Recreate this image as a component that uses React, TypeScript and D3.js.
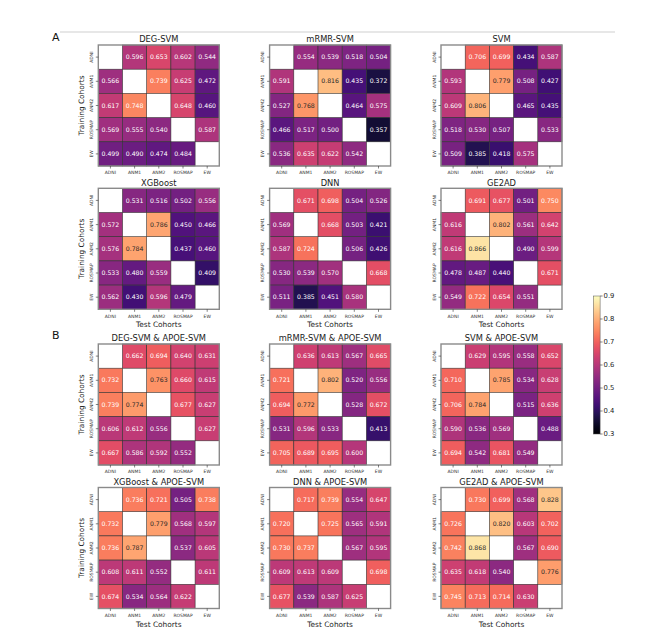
import React from "react";
import * as d3 from "d3";

const cohorts = ["ADNI", "ANM1", "ANM2", "ROSMAP", "EW"];
const colorbarTicks = [0.3, 0.4, 0.5, 0.6, 0.7, 0.8, 0.9];

const degSvm = [
  [null, 0.596, 0.653, 0.602, 0.544],
  [0.566, null, 0.739, 0.625, 0.472],
  [0.617, 0.748, null, 0.648, 0.46],
  [0.569, 0.555, 0.54, null, 0.587],
  [0.499, 0.49, 0.474, 0.484, null],
];
const mrmrSvm = [
  [null, 0.554, 0.539, 0.518, 0.504],
  [0.591, null, 0.816, 0.435, 0.372],
  [0.527, 0.768, null, 0.464, 0.575],
  [0.466, 0.517, 0.5, null, 0.357],
  [0.536, 0.635, 0.622, 0.542, null],
];
const svm = [
  [null, 0.706, 0.699, 0.434, 0.587],
  [0.593, null, 0.779, 0.508, 0.427],
  [0.609, 0.806, null, 0.465, 0.435],
  [0.518, 0.53, 0.507, null, 0.533],
  [0.509, 0.385, 0.418, 0.575, null],
];
const xgboost = [
  [null, 0.531, 0.516, 0.502, 0.556],
  [0.572, null, 0.786, 0.45, 0.466],
  [0.576, 0.784, null, 0.437, 0.46],
  [0.533, 0.48, 0.559, null, 0.409],
  [0.562, 0.43, 0.596, 0.479, null],
];
const dnn = [
  [null, 0.671, 0.698, 0.504, 0.526],
  [0.569, null, 0.668, 0.503, 0.421],
  [0.587, 0.724, null, 0.506, 0.426],
  [0.53, 0.539, 0.57, null, 0.668],
  [0.511, 0.385, 0.451, 0.58, null],
];
const ge2ad = [
  [null, 0.691, 0.677, 0.501, 0.75],
  [0.616, null, 0.802, 0.561, 0.642],
  [0.616, 0.866, null, 0.49, 0.599],
  [0.478, 0.487, 0.44, null, 0.671],
  [0.549, 0.722, 0.654, 0.551, null],
];
const degApoe = [
  [null, 0.662, 0.694, 0.64, 0.631],
  [0.732, null, 0.763, 0.66, 0.615],
  [0.739, 0.774, null, 0.677, 0.627],
  [0.606, 0.612, 0.556, null, 0.627],
  [0.667, 0.586, 0.592, 0.552, null],
];
const mrmrApoe = [
  [null, 0.636, 0.613, 0.567, 0.665],
  [0.721, null, 0.802, 0.52, 0.556],
  [0.694, 0.772, null, 0.528, 0.672],
  [0.531, 0.596, 0.533, null, 0.413],
  [0.705, 0.689, 0.695, 0.6, null],
];
const svmApoe = [
  [null, 0.629, 0.595, 0.558, 0.652],
  [0.71, null, 0.785, 0.534, 0.628],
  [0.706, 0.784, null, 0.515, 0.636],
  [0.59, 0.536, 0.569, null, 0.488],
  [0.694, 0.542, 0.681, 0.549, null],
];
const xgbApoe = [
  [null, 0.736, 0.721, 0.505, 0.738],
  [0.732, null, 0.779, 0.568, 0.597],
  [0.736, 0.787, null, 0.537, 0.605],
  [0.608, 0.611, 0.552, null, 0.611],
  [0.674, 0.534, 0.564, 0.622, null],
];
const dnnApoe = [
  [null, 0.717, 0.739, 0.554, 0.647],
  [0.72, null, 0.725, 0.565, 0.591],
  [0.73, 0.737, null, 0.567, 0.595],
  [0.609, 0.613, 0.609, null, 0.698],
  [0.677, 0.539, 0.587, 0.625, null],
];
const ge2adApoe = [
  [null, 0.73, 0.699, 0.568, 0.828],
  [0.726, null, 0.82, 0.603, 0.702],
  [0.742, 0.868, null, 0.567, 0.69],
  [0.635, 0.618, 0.54, null, 0.776],
  [0.745, 0.713, 0.714, 0.63, null],
];

const panelTitles = [
  "DEG-SVM", "mRMR-SVM", "SVM",
  "XGBoost", "DNN", "GE2AD",
  "DEG-SVM & APOE-SVM", "mRMR-SVM & APOE-SVM", "SVM & APOE-SVM",
  "XGBoost & APOE-SVM", "DNN & APOE-SVM", "GE2AD & APOE-SVM",
];
const panelData = [
  degSvm, mrmrSvm, svm,
  xgboost, dnn, ge2ad,
  degApoe, mrmrApoe, svmApoe,
  xgbApoe, dnnApoe, ge2adApoe,
];

const W = 651;
const H = 640;
const FONT = "DejaVu Sans, sans-serif";
const gridSize = 121;
const colLefts = [98.3, 269.6, 441];
const rowTops = [45, 188.3, 344, 487.5];

const color = d3.scaleSequential(d3.interpolateMagma).domain([0.3, 0.9]);

function textColorFor(v: number) {
  const c = d3.rgb(color(v));
  const lin = (x: number) => {
    const s = x / 255;
    return s <= 0.03928 ? s / 12.92 : Math.pow((s + 0.055) / 1.055, 2.4);
  };
  const lum = 0.2126 * lin(c.r) + 0.7152 * lin(c.g) + 0.0722 * lin(c.b);
  return lum > 0.408 ? "#262626" : "#ffffff";
}

function Heatmap({ x0, y0, title, data, showYLabel, showXLabel }: any) {
  const band = d3.scaleBand<string>().domain(cohorts).range([0, gridSize]);
  const bw = band.bandwidth();
  return (
    <g transform={`translate(${x0},${y0})`}>
      <text x={gridSize / 2} y={-2.6} textAnchor="middle" fontSize={8.3} fill="#1a1a1a" fontFamily={FONT}>
        {title}
      </text>
      {data.map((row: (number | null)[], i: number) =>
        row.map((v, j) =>
          v === null ? null : (
            <rect
              key={`c${i}-${j}`}
              x={band(cohorts[j])}
              y={band(cohorts[i])}
              width={bw}
              height={bw}
              fill={color(v)}
              stroke="#333"
              strokeWidth={0.6}
            />
          )
        )
      )}
      {data.map((row: (number | null)[], i: number) =>
        row.map((v, j) =>
          v === null ? null : (
            <text
              key={`t${i}-${j}`}
              x={(band(cohorts[j]) as number) + bw / 2}
              y={(band(cohorts[i]) as number) + bw / 2}
              dy="0.35em"
              textAnchor="middle"
              fontSize={6.2}
              fill={textColorFor(v)}
              fontFamily={FONT}
            >
              {v.toFixed(3)}
            </text>
          )
        )
      )}
      <rect x={0} y={0} width={gridSize} height={gridSize} fill="none" stroke="#8a8a8a" strokeWidth={1.4} />
      {cohorts.map((c) => {
        const cy = (band(c) as number) + bw / 2;
        return (
          <g key={`y${c}`}>
            <line x1={-2.5} x2={0} y1={cy} y2={cy} stroke="#333" strokeWidth={0.6} />
            <text
              transform={`translate(${-5.2},${cy}) rotate(-90)`}
              textAnchor="middle"
              fontSize={4.5}
              fill="#333"
              fontFamily={FONT}
            >
              {c}
            </text>
          </g>
        );
      })}
      {cohorts.map((c) => {
        const cx = (band(c) as number) + bw / 2;
        return (
          <g key={`x${c}`}>
            <line x1={cx} x2={cx} y1={gridSize} y2={gridSize + 2.5} stroke="#333" strokeWidth={0.6} />
            <text x={cx} y={gridSize + 8.3} textAnchor="middle" fontSize={4.5} fill="#333" fontFamily={FONT}>
              {c}
            </text>
          </g>
        );
      })}
      {showYLabel && (
        <text
          transform={`translate(${-14},${gridSize / 2}) rotate(-90)`}
          textAnchor="middle"
          fontSize={7.4}
          fill="#1a1a1a"
          fontFamily={FONT}
        >
          Training Cohorts
        </text>
      )}
      {showXLabel && (
        <text x={gridSize / 2} y={gridSize + 18} textAnchor="middle" fontSize={7.4} fill="#1a1a1a" fontFamily={FONT}>
          Test Cohorts
        </text>
      )}
    </g>
  );
}

function Colorbar() {
  const x = 593.3;
  const w = 6.8;
  const y = d3.scaleLinear().domain([0.3, 0.9]).range([434, 296]);
  const stops = d3.range(0, 1.0001, 0.05);
  return (
    <g>
      <defs>
        <linearGradient id="cbgrad" x1="0" y1="1" x2="0" y2="0">
          {stops.map((t) => (
            <stop key={t} offset={`${t * 100}%`} stopColor={d3.interpolateMagma(t)} />
          ))}
        </linearGradient>
      </defs>
      <rect x={x} y={y(0.9)} width={w} height={y(0.3) - y(0.9)} fill="url(#cbgrad)" stroke="#555" strokeWidth={0.5} />
      {colorbarTicks.map((t) => (
        <g key={t}>
          <line x1={x + w} x2={x + w + 2.5} y1={y(t)} y2={y(t)} stroke="#333" strokeWidth={0.6} />
          <text x={x + w + 3.5} y={y(t)} dy="0.35em" fontSize={6.8} fill="#222" fontFamily={FONT}>
            {t.toFixed(1)}
          </text>
        </g>
      ))}
    </g>
  );
}

export default function App() {
  return (
    <svg width={W} height={H} style={{ position: "absolute", left: 0, top: 0, background: "#fff" }}>
      <line x1={60} x2={615} y1={32} y2={32} stroke="#cfcfcf" strokeWidth={1} />
      <text x={52} y={41} fontSize={11} fill="#111" fontFamily={FONT}>A</text>
      <text x={52} y={339} fontSize={11} fill="#111" fontFamily={FONT}>B</text>
      {panelData.map((data, k) => {
        const r = Math.floor(k / 3);
        const c = k % 3;
        return (
          <Heatmap
            key={k}
            x0={colLefts[c]}
            y0={rowTops[r]}
            title={panelTitles[k]}
            data={data}
            showYLabel={c === 0}
            showXLabel={r === 1 || r === 3}
          />
        );
      })}
      <Colorbar />
    </svg>
  );
}
